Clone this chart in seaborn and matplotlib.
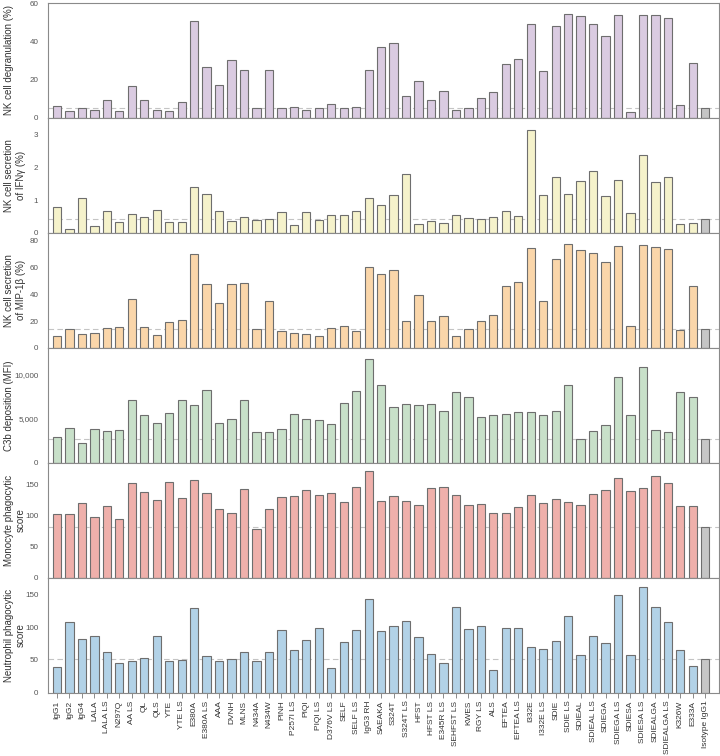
import numpy as np
import pandas as pd
import seaborn as sns
import matplotlib.pyplot as plt

sns.set_style('white')
plt.rcParams['font.family'] = ['Liberation Sans', 'DejaVu Sans']

# antibody variants (x axis)
variants = ['IgG1', 'IgG2', 'IgG4', 'LALA', 'LALA LS', 'N297Q', 'AA LS', 'QL', 'QLS', 'YTE',
            'YTE LS', 'E380A', 'E380A LS', 'AAA', 'DVNH', 'MLNS', 'N434A', 'N434W', 'PINH',
            'P257I LS', 'PIQI', 'PIQI LS', 'D376V LS', 'SELF', 'SELF LS', 'IgG3 RH', 'SAEAKA',
            'S324T', 'S324T LS', 'HFST', 'HFST LS', 'E345R LS', 'SEHFST LS', 'KWES', 'RGY LS',
            'ALS', 'EFTEA', 'EFTEA LS', 'I332E', 'I332E LS', 'SDIE', 'SDIE LS', 'SDIEAL',
            'SDIEAL LS', 'SDIEGA', 'SDIEGA LS', 'SDIESA', 'SDIESA LS', 'SDIEALGA',
            'SDIEALGA LS', 'K326W', 'E333A', 'Isotype IgG1']

degranulation = [6.1, 3.8, 5.4, 4.3, 9.6, 3.8, 16.9, 9.6, 4.3, 3.8, 8.3, 50.6, 26.6, 17.2, 30.3,
                 25.0, 5.2, 25.0, 5.2, 5.7, 4.3, 5.0, 7.3, 5.0, 5.6, 25.2, 36.9, 39.1, 11.5, 19.3,
                 9.6, 14.1, 4.3, 5.2, 10.4, 13.6, 28.0, 30.6, 49.0, 24.7, 48.0, 54.4, 53.0, 49.0,
                 43.0, 53.6, 3.1, 53.6, 53.7, 52.0, 6.8, 28.9, 5.2]

ifng = [0.78, 0.13, 1.05, 0.22, 0.66, 0.32, 0.59, 0.50, 0.71, 0.32, 0.32, 1.39, 1.20, 0.66, 0.35,
        0.47, 0.39, 0.41, 0.65, 0.24, 0.65, 0.39, 0.55, 0.56, 0.68, 1.06, 0.86, 1.15, 1.80, 0.26,
        0.36, 0.30, 0.56, 0.44, 0.41, 0.50, 0.68, 0.53, 3.12, 1.16, 1.71, 1.20, 1.57, 1.88, 1.11,
        1.62, 0.61, 2.37, 1.55, 1.69, 0.28, 0.30, 0.41]

mip1b = [9.2, 14.4, 10.4, 11.1, 15.1, 15.6, 36.6, 15.8, 9.7, 19.6, 20.5, 70.0, 47.8, 33.7, 47.8,
         48.5, 14.4, 34.7, 12.9, 11.1, 10.4, 8.7, 14.9, 16.6, 12.4, 60.5, 55.2, 58.4, 20.3, 39.6,
         20.3, 23.5, 9.2, 14.1, 20.3, 24.5, 46.5, 49.3, 74.5, 34.9, 66.6, 77.5, 73.3, 70.8, 64.6,
         76.0, 16.1, 77.2, 75.5, 73.8, 13.1, 46.3, 14.1]

c3b = [2970, 3950, 2220, 3800, 3570, 3720, 7070, 5380, 4550, 5640, 7070, 6500, 8230, 4510, 4920,
       7070, 3500, 3460, 3830, 5530, 5000, 4810, 4360, 6800, 8120, 11690, 8760, 6350, 6620, 6540,
       6690, 5830, 8050, 7410, 5150, 5380, 5490, 5710, 5790, 5380, 5860, 8760, 2710, 3570, 4250,
       9660, 5380, 10790, 3680, 3530, 8050, 7410, 2740]

monocyte = [102, 102, 121, 98, 115, 94, 152, 138, 125, 154, 128, 157, 136, 110, 105, 143, 78, 110,
            130, 131, 141, 133, 136, 122, 146, 172, 123, 131, 124, 117, 145, 146, 133, 117, 118,
            105, 105, 114, 133, 121, 127, 122, 117, 135, 141, 161, 140, 144, 163, 152, 115, 115, 81]

neutrophil = [39, 108, 82, 87, 62, 45, 48, 53, 86, 48, 50, 129, 56, 48, 51, 62, 48, 62, 95, 65,
              80, 98, 38, 77, 95, 142, 94, 102, 109, 85, 59, 46, 131, 97, 102, 35, 98, 98, 69,
              66, 78, 117, 57, 86, 76, 149, 57, 161, 131, 108, 65, 41, 52]

panels = [
    (degranulation, 'NK cell degranulation (%)', '#dacbe1', (0, 60), [0, 20, 40, 60]),
    (ifng, 'NK cell secretion\nof IFN\u03b3 (%)', '#f5f2cb', (0, 3.5), [0, 1, 2, 3]),
    (mip1b, 'NK cell secretion\nof MIP-1\u03b2 (%)', '#fad6aa', (0, 86), [0, 20, 40, 60, 80]),
    (c3b, 'C3b deposition (MFI)', '#c8e0c9', (0, 13000), [0, 5000, 10000]),
    (monocyte, 'Monocyte phagocytic\nscore', '#efb0ab', (0, 185), [0, 50, 100, 150]),
    (neutrophil, 'Neutrophil phagocytic\nscore', '#b2d2e7', (0, 175), [0, 50, 100, 150]),
]

fig, axes = plt.subplots(6, 1, figsize=(7.2, 7.56), dpi=100, sharex=True)
fig.subplots_adjust(left=0.0667, right=0.9986, top=0.996, bottom=0.0837, hspace=0)

for ax, (vals, label, color, ylim, yticks) in zip(axes, panels):
    df = pd.DataFrame({'variant': variants, 'value': vals})
    pal = [color] * (len(variants) - 1) + ['#c6c6c6']
    sns.barplot(data=df, x='variant', y='value', hue='variant', palette=pal, legend=False,
                width=0.66, saturation=1, edgecolor='#6e6e6e', linewidth=0.8, ax=ax, zorder=2)
    # isotype reference line
    ax.axhline(vals[-1], color='#c4c4c4', ls=(0, (5, 3)), lw=0.8, zorder=1)

    ax.set_ylim(*ylim)
    ax.set_yticks(yticks)
    if ylim[1] > 1000:
        ax.set_yticklabels([f'{t:,}' for t in yticks])
    ax.set_xlim(-0.72, 53.1)
    ax.set_ylabel(label, fontsize=7, color='#333333', linespacing=1.2)
    ax.set_xlabel('')
    ax.yaxis.set_label_coords(-0.05 if '\n' not in label else -0.033, 0.5)

    for sp in ax.spines.values():
        sp.set_color('#8a8a8a')
        sp.set_linewidth(0.8)
    ax.tick_params(axis='y', length=0, pad=7, labelsize=5.8, labelcolor='#555555')
    ax.tick_params(axis='x', length=3.6, width=0.7, color='#8a8a8a', direction='out',
                   bottom=True, labelsize=6.0, labelcolor='#333333', pad=2)

axes[-1].set_xticks(range(len(variants)))
axes[-1].set_xticklabels(variants, rotation=90)

plt.savefig('out.png', dpi=100)
